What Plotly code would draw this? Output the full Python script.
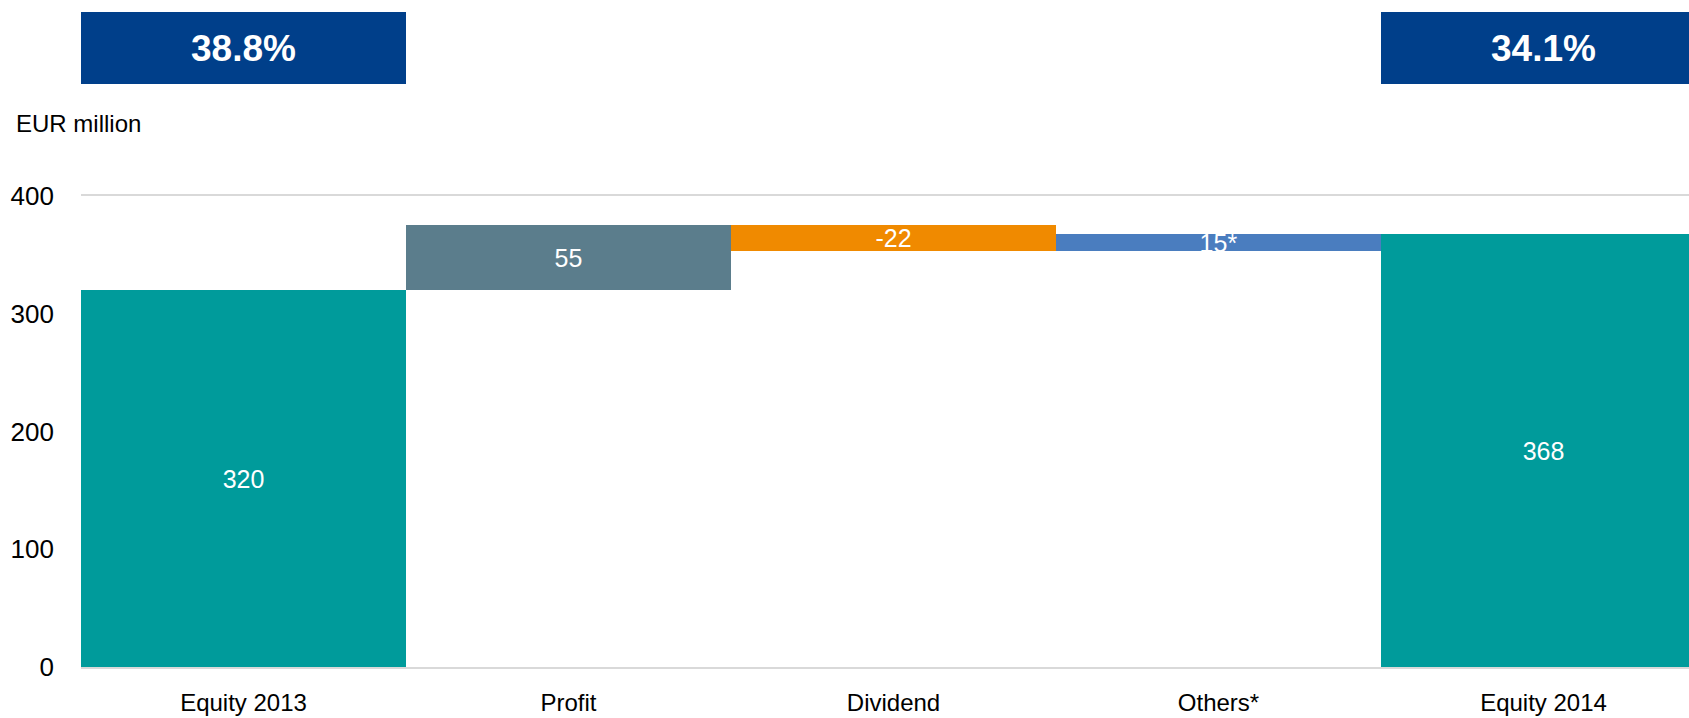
"""
Equity bridge 2013 -> 2014 (waterfall style bar chart).
"""

import plotly.graph_objects as go

### DATA
categories = ['Equity 2013', 'Profit', 'Dividend', 'Others*', 'Equity 2014']
values = [320, 55, -22, 15, 368]
measures = ['absolute', 'relative', 'relative', 'relative', 'total']
bar_labels = ['320', '55', '-22', '15*', '368']
bar_colors = ['#009B9B', '#5B7D8C', '#F08A00', '#4A7DBF', '#009B9B']

# equity ratio boxes above the totals
ratio_categories = ['Equity 2013', 'Equity 2014']
ratio_labels = ['38.8%', '34.1%']

y_ticks = [0, 100, 200, 300, 400]

### CONSTANTS
FONT = 'Liberation Sans, Arial, sans-serif'
NAVY = '#003F8A'

# bases for the floating bars
bases = []
running = 0
for val, m in zip(values, measures):
    if m == 'relative':
        bases.append(running)
        running += val
    else:
        bases.append(0)
        running = val

fig = go.Figure()

fig.add_trace(
    go.Bar(
        x=categories,
        y=values,
        base=bases,
        marker={'color': bar_colors, 'line': {'width': 0}},
        text=bar_labels,
        textposition='inside',
        insidetextanchor='middle',
        textangle=0,
        constraintext='none',
        textfont={'family': FONT, 'size': 25, 'color': 'white'},
        hoverinfo='skip',
    )
)

# percentage boxes
for cat, lab in zip(ratio_categories, ratio_labels):
    idx = categories.index(cat)
    fig.add_shape(
        type='rect', xref='x', yref='paper',
        x0=idx - 0.5, x1=idx + 0.5, y0=1.2378, y1=1.3907,
        fillcolor=NAVY, line={'width': 0}, layer='above',
    )
    fig.add_annotation(
        x=cat, xref='x', y=1.314, yref='paper',
        text=f'<b>{lab}</b>', showarrow=False,
        font={'family': FONT, 'size': 37, 'color': 'white'},
        xanchor='center', yanchor='middle',
    )

fig.add_annotation(
    x=-0.0417, xref='paper', y=1.153, yref='paper',
    text='EUR million', showarrow=False,
    font={'family': FONT, 'size': 24, 'color': 'black'},
    xanchor='left', yanchor='middle',
)

fig.update_layout(
    width=1689,
    height=718,
    margin={'l': 81, 'r': 0, 't': 196, 'b': 51},
    paper_bgcolor='white',
    plot_bgcolor='white',
    bargap=0,
    showlegend=False,
)

fig.update_xaxes(
    range=[-0.5, -0.5 + 1608 / 325],
    showgrid=False,
    showline=True,
    mirror=True,
    linecolor='#D9D9D9',
    linewidth=2,
    ticks='',
    ticklabelstandoff=13,
    tickfont={'family': FONT, 'size': 24, 'color': 'black'},
)

fig.update_yaxes(
    range=[0, 400],
    tickvals=y_ticks,
    showgrid=False,
    zeroline=False,
    showline=False,
    ticks='',
    ticklabelstandoff=26,
    tickfont={'family': FONT, 'size': 26, 'color': 'black'},
)

# drop the default page margin so the figure fills the window exactly
fig.write_html(
    'out.html',
    config={'displayModeBar': False},
    post_script="document.body.style.margin='0';document.body.style.overflow='hidden';",
)
